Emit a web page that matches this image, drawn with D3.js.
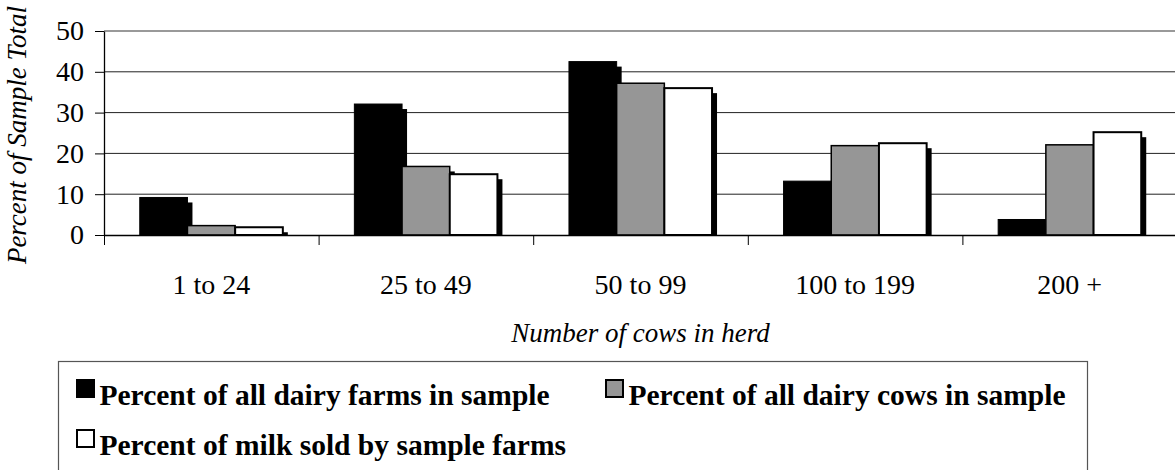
<!DOCTYPE html>
<html>
<head>
<meta charset="utf-8">
<script src="https://cdn.jsdelivr.net/npm/d3@7"></script>
<style>
  body { margin: 0; background: #fff; }
  svg { display: block; font-family: "Liberation Serif", "Times New Roman", serif; }
</style>
</head>
<body>
<svg id="chart" width="1175" height="470"></svg>
<script>
// Daten
const herdSizes = ["1 to 24", "25 to 49", "50 to 99", "100 to 199", "200 +"];
const seriesNames = [
  "Percent of all dairy farms in sample",
  "Percent of all dairy cows in sample",
  "Percent of milk sold by sample farms"
];
const pctFarms = [9.2, 32.1, 42.5, 13.2, 3.8];
const pctCows  = [2.3, 16.8, 37.2, 21.9, 22.1];
const pctMilk  = [1.9, 14.9, 36.0, 22.5, 25.2];
const yTicks = [0, 10, 20, 30, 40, 50];

const seriesValues = [pctFarms, pctCows, pctMilk];
const fills = ["#000000", "#969696", "#ffffff"];
const strokeW = [1, 1.5, 2];

const svg = d3.select("#chart");

const plot = { left: 104, right: 1177, top: 31, bottom: 235 };

const x0 = d3.scaleBand()
  .domain(herdSizes)
  .range([plot.left, plot.right])
  .paddingInner(0)
  .paddingOuter(0);

const x1 = d3.scaleBand()
  .domain(d3.range(seriesNames.length))
  .range([0, x0.bandwidth()])
  .paddingInner(0)
  .paddingOuter(0.75);

const y = d3.scaleLinear()
  .domain([0, 50])
  .range([plot.bottom, plot.top]);

// Gitterlinien
svg.append("g")
  .selectAll("line")
  .data(yTicks.filter(d => d > 0))
  .enter()
  .append("line")
    .attr("x1", plot.left)
    .attr("x2", plot.right)
    .attr("y1", d => y(d))
    .attr("y2", d => y(d))
    .attr("stroke", d => d === 50 ? "#777" : "#222")
    .attr("stroke-width", d => d === 50 ? 1.6 : 1);

// Tabelle für die Balken
const barData = [];
herdSizes.forEach((cat, i) => {
  seriesValues.forEach((vals, s) => {
    barData.push({ cat, s, value: vals[i] });
  });
});

// Schatten zuerst
const shadowOff = 5;
svg.append("g")
  .selectAll("rect")
  .data(barData)
  .enter()
  .append("rect")
    .attr("x", d => x0(d.cat) + x1(d.s) + shadowOff)
    .attr("y", d => y(d.value) + shadowOff)
    .attr("width", x1.bandwidth())
    .attr("height", d => Math.max(0, y(0) - y(d.value) - shadowOff))
    .attr("fill", "#000");

// Balken
svg.append("g")
  .selectAll("rect")
  .data(barData)
  .enter()
  .append("rect")
    .attr("x", d => x0(d.cat) + x1(d.s))
    .attr("y", d => y(d.value))
    .attr("width", x1.bandwidth())
    .attr("height", d => y(0) - y(d.value))
    .attr("fill", d => fills[d.s])
    .attr("stroke", "#000")
    .attr("stroke-width", d => strokeW[d.s]);

// y-Achse
const yAxis = svg.append("g")
  .attr("transform", `translate(${plot.left},0)`)
  .call(d3.axisLeft(y).tickValues(yTicks).tickSize(9).tickPadding(11).tickSizeOuter(0));
yAxis.select(".domain").attr("stroke", "#000").attr("stroke-width", 1.3);
yAxis.selectAll(".tick line").attr("stroke", "#000");
yAxis.selectAll("text")
  .attr("font-family", "Liberation Serif, Times New Roman, serif")
  .attr("font-size", 28)
  .attr("fill", "#000");

// x-Achse: Trennstriche zwischen den Kategorien
const xEdges = d3.scaleLinear().domain([0, herdSizes.length]).range([plot.left, plot.right]);
const xTickAxis = svg.append("g")
  .attr("transform", `translate(0,${plot.bottom})`)
  .call(d3.axisBottom(xEdges).ticks(herdSizes.length).tickFormat("").tickSize(10).tickSizeOuter(0));
xTickAxis.select(".domain").attr("stroke", "#000").attr("stroke-width", 1.3);
xTickAxis.selectAll(".tick line").attr("stroke", "#000");

// x-Achse: Beschriftungen
const xLabelAxis = svg.append("g")
  .attr("transform", `translate(0,${plot.bottom})`)
  .call(d3.axisBottom(x0).tickSize(0).tickPadding(39));
xLabelAxis.select(".domain").remove();
xLabelAxis.selectAll("text")
  .attr("font-family", "Liberation Serif, Times New Roman, serif")
  .attr("font-size", 28)
  .attr("fill", "#000");

// Achsentitel
svg.append("text")
  .attr("transform", `translate(26,${(plot.top + plot.bottom) / 2 + 2}) rotate(-90)`)
  .attr("text-anchor", "middle")
  .attr("font-style", "italic")
  .attr("font-size", 27)
  .text("Percent of Sample Total");

svg.append("text")
  .attr("x", (plot.left + plot.right) / 2)
  .attr("y", 342)
  .attr("text-anchor", "middle")
  .attr("font-style", "italic")
  .attr("font-size", 27)
  .text("Number of cows in herd");

// Legende
svg.append("rect")
  .attr("x", 58.5)
  .attr("y", 361.5)
  .attr("width", 1029)
  .attr("height", 140)
  .attr("fill", "none")
  .attr("stroke", "#555")
  .attr("stroke-width", 1.2);

const legendPos = [
  { x: 76, y: 405 },
  { x: 605, y: 405 },
  { x: 76, y: 455 }
];

const legendItems = svg.append("g")
  .selectAll("g")
  .data(seriesNames)
  .enter()
  .append("g")
    .attr("transform", (d, i) => `translate(${legendPos[i].x},${legendPos[i].y})`);

legendItems.append("rect")
  .attr("x", 1)
  .attr("y", -25)
  .attr("width", 17)
  .attr("height", 17)
  .attr("fill", (d, i) => fills[i])
  .attr("stroke", "#000")
  .attr("stroke-width", 2);

legendItems.append("text")
  .attr("x", 23.5)
  .attr("y", 0)
  .attr("font-weight", "bold")
  .attr("font-size", 29.5)
  .text(d => d);
</script>
</body>
</html>
